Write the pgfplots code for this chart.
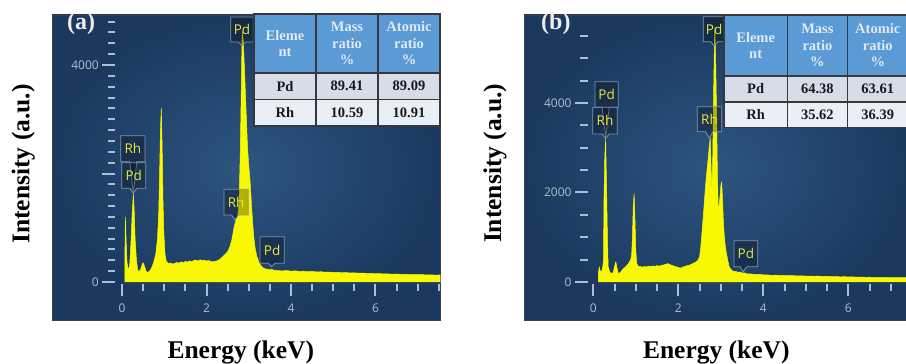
\documentclass[border=0pt]{standalone}
\usepackage{fontspec}
\setmainfont{Liberation Serif}
\newfontfamily\uisans{Open Sans}
\usepackage{pgfplots}
\pgfplotsset{compat=1.18}
\usetikzlibrary{calc}

\definecolor{panelbg}{RGB}{27,57,95}
\definecolor{panelhi}{RGB}{44,85,128}
\definecolor{spec}{RGB}{248,248,0}
\definecolor{tickc}{RGB}{172,190,210}
\definecolor{boxedge}{RGB}{128,150,175}
\definecolor{boxtext}{RGB}{232,232,60}
\definecolor{hdr}{RGB}{91,155,213}
\definecolor{hdrtext}{RGB}{224,233,245}
\definecolor{rowpd}{RGB}{214,221,233}
\definecolor{rowrh}{RGB}{234,238,246}
\definecolor{rulec}{RGB}{55,55,60}

\pgfplotsset{
  edspanel/.style={
    scale only axis, anchor=south west, height=305bp,
    xtick=\empty, ytick=\empty,
    axis line style={draw=black!75, line width=0.6bp},
    axis background/.style={shading=radial, inner color=panelhi, outer color=panelbg},
    clip=false,
  },
  spectrum/.style={draw=spec, fill=spec, line width=0.5bp, line join=round},
}
\tikzset{
  tickmark/.style={draw=tickc, line width=2bp},
  ticklab/.style={text=tickc, font=\uisans\fontsize{12bp}{12bp}\selectfont, inner sep=0pt},
  peaklab/.style={text=boxtext, font=\uisans\fontsize{13.5bp}{13.5bp}\selectfont, inner sep=0pt},
  axlab/.style={font=\bfseries\fontsize{25.5bp}{30bp}\selectfont, inner sep=0pt},
  hdrcell/.style={text=hdrtext, font=\bfseries\fontsize{14.5bp}{16.5bp}\selectfont, align=center, inner sep=0pt},
  bodycell/.style={text=black!90, font=\bfseries\fontsize{14.5bp}{16.5bp}\selectfont, inner sep=0pt},
}

% peak marker: left, right, bottom, top, tip x, tip y, element
\newcommand\peakbox[7]{%
  \path[draw=boxedge, line width=0.8bp, fill=black, fill opacity=0.28]
    (#1bp,#3bp) -- (#1bp,#4bp) -- (#2bp,#4bp) -- (#2bp,#3bp)
    -- ({#5bp+3.5bp},#3bp) -- (#5bp,#6bp) -- ({#5bp-3.5bp},#3bp) -- cycle;
  \node[peaklab] at ($(#1bp,#3bp)!0.5!(#2bp,#4bp)$) {#7};
}

% quantification table grid: x0, x1, x2, x3, top, header bottom, row split, bottom
\newcommand\edstable[8]{%
  \fill[hdr] (#1bp,#6bp) rectangle (#4bp,#5bp);
  \fill[rowpd] (#1bp,#7bp) rectangle (#4bp,#6bp);
  \fill[rowrh] (#1bp,#8bp) rectangle (#4bp,#7bp);
  \draw[rulec, line width=1.2bp] (#1bp,#8bp) rectangle (#4bp,#5bp)
     (#1bp,#6bp) -- (#4bp,#6bp) (#1bp,#7bp) -- (#4bp,#7bp)
     (#2bp,#8bp) -- (#2bp,#5bp) (#3bp,#8bp) -- (#3bp,#5bp);
}

\begin{document}
\begin{tikzpicture}
\useasboundingbox (0,0) rectangle (906bp,364bp);
\clip (0,0) rectangle (906bp,364bp);

%% ---------------- panel (a) ----------------
\begin{axis}[edspanel, at={(52bp,44bp)}, width=388bp,
  xmin=-1.657, xmax=7.527, ymin=-700, ymax=4922]
\addplot[spectrum] coordinates {
(0.07,0) (0.07,600) (0.08,1200) (0.10,700) (0.12,350) (0.15,220) (0.18,300)
(0.21,700) (0.24,1250) (0.27,1640) (0.29,1300) (0.31,800) (0.34,420)
(0.37,230) (0.40,190) (0.44,230) (0.48,330) (0.50,356) (0.53,300)
(0.57,200) (0.60,175) (0.65,200) (0.70,260) (0.75,360) (0.80,520)
(0.84,800) (0.87,1300) (0.89,2000) (0.91,2800) (0.93,3200) (0.95,2500)
(0.97,1500) (0.99,900) (1.02,500) (1.05,380) (1.10,340) (1.15,352)
(1.20,330) (1.25,345) (1.30,360) (1.35,348) (1.40,372) (1.45,356)
(1.50,380) (1.55,366) (1.60,390) (1.65,372) (1.70,398) (1.75,405)
(1.80,385) (1.85,410) (1.90,395) (1.95,402) (2.00,388) (2.05,396)
(2.10,380) (2.15,372) (2.20,378) (2.25,390) (2.30,410) (2.35,440)
(2.40,480) (2.45,515) (2.50,560) (2.55,640) (2.60,780) (2.65,1000)
(2.70,1150) (2.74,1220) (2.77,1450) (2.80,2400) (2.82,3400) (2.84,4450)
(2.85,4620) (2.87,4450) (2.89,4100) (2.91,3700) (2.94,3100) (2.97,2500)
(3.00,2150) (3.03,1880) (3.06,1480) (3.09,1120) (3.12,830) (3.15,630)
(3.19,480) (3.24,360) (3.30,290) (3.36,250) (3.42,240) (3.50,225)
(3.55,235) (3.60,215) (3.70,210) (3.80,205) (3.90,212) (4.00,198)
(4.10,206) (4.20,194) (4.30,200) (4.40,190) (4.50,196) (4.60,186)
(4.70,190) (4.80,180) (4.90,184) (5.00,176) (5.10,180) (5.20,170)
(5.30,174) (5.40,166) (5.50,170) (5.60,162) (5.70,166) (5.80,158)
(5.90,160) (6.00,152) (6.10,156) (6.20,148) (6.30,150) (6.40,144)
(6.50,148) (6.60,140) (6.70,143) (6.80,137) (6.90,140) (7.00,134)
(7.10,137) (7.20,131) (7.30,134) (7.40,128) (7.527,130) (7.527,0)
};
% energy ticks
\pgfplotsinvokeforeach{0,0.5,...,7.5}{\draw[tickmark] (axis cs:#1,0) ++(0bp,-1.5bp) -- ++(0bp,-7bp);}
\pgfplotsinvokeforeach{0,2,4,6}{%
  \draw[tickmark] (axis cs:#1,0) ++(0bp,-1.5bp) -- ++(0bp,-12.5bp);
  \node[ticklab] at ([yshift=-26bp]axis cs:#1,0) {#1};}
% intensity ticks
\pgfplotsinvokeforeach{0,200,...,4800}{\draw[tickmark] (axis cs:-0.166,#1) -- ++(-6.5bp,0bp);}
\pgfplotsinvokeforeach{0,2000,4000}{\draw[tickmark] (axis cs:-0.166,#1) -- ++(-13bp,0bp);}
\node[ticklab, anchor=east] at ([xshift=-16bp]axis cs:-0.166,4000) {4000};
\node[ticklab, anchor=east] at ([xshift=-16bp]axis cs:-0.166,0) {0};
\end{axis}

\peakbox{230.7}{253.3}{322}{347}{242}{318}{Pd}
\peakbox{120.7}{145}{202.3}{228.3}{133.3}{170.7}{Rh}
\peakbox{121.7}{145.7}{175.7}{201.3}{133.3}{170.7}{Pd}
\peakbox{224}{248.3}{149}{174.7}{235}{144}{Rh}
\peakbox{260}{284.3}{100.7}{127.3}{271.7}{97.3}{Pd}

\edstable{254}{316}{378}{440}{350}{291}{264.7}{238}
\node[hdrcell] at (285bp,320.5bp) {Eleme\\nt};
\node[hdrcell] at (347bp,320.5bp) {Mass\\ratio\\\%};
\node[hdrcell] at (409bp,320.5bp) {Atomic\\ratio\\\%};
\node[bodycell] at (285bp,277.85bp) {Pd};
\node[bodycell] at (347bp,277.85bp) {89.41};
\node[bodycell] at (409bp,277.85bp) {89.09};
\node[bodycell] at (285bp,251.35bp) {Rh};
\node[bodycell] at (347bp,251.35bp) {10.59};
\node[bodycell] at (409bp,251.35bp) {10.91};

\node[axlab, text=white!92!black, anchor=base west, font=\bfseries\fontsize{24bp}{28bp}\selectfont] at (67bp,334bp) {(a)};
\node[axlab, anchor=base] at (240.8bp,6bp) {Energy (keV)};
\node[axlab, rotate=90] at (23.3bp,200bp) {Intensity (a.u.)};

%% ---------------- panel (b) ----------------
\begin{axis}[edspanel, at={(524bp,44bp)}, width=384bp,
  xmin=-1.631, xmax=7.404, ymin=-849, ymax=5966]
\addplot[spectrum] coordinates {
(0.12,0) (0.12,200) (0.14,340) (0.16,250) (0.19,230) (0.22,320) (0.24,500)
(0.25,1830) (0.27,2800) (0.29,3212) (0.31,2200) (0.33,1090) (0.35,340)
(0.39,220) (0.43,180) (0.47,220) (0.50,350) (0.53,454) (0.56,300)
(0.59,180) (0.64,220) (0.70,290) (0.76,340) (0.82,400) (0.87,480)
(0.90,570) (0.92,1000) (0.94,1700) (0.96,1980) (0.98,1400) (1.00,700)
(1.02,420) (1.06,340) (1.10,352) (1.15,330) (1.20,346) (1.25,338)
(1.30,355) (1.35,342) (1.40,360) (1.45,348) (1.50,366) (1.55,352)
(1.60,370) (1.65,380) (1.70,395) (1.75,410) (1.80,392) (1.85,370)
(1.90,356) (1.95,340) (2.00,325) (2.05,310) (2.10,330) (2.15,348)
(2.20,362) (2.25,375) (2.30,392) (2.35,418) (2.40,440) (2.45,470)
(2.50,560) (2.53,800) (2.56,1150) (2.59,1500) (2.62,1900) (2.65,2250)
(2.68,2550) (2.71,2840) (2.73,3050) (2.75,3212) (2.77,2600) (2.79,2020)
(2.81,2800) (2.83,4200) (2.85,5400) (2.86,5700) (2.88,4900) (2.90,3730)
(2.92,2400) (2.94,1650) (2.96,1700) (2.98,1900) (3.00,2150) (3.02,2240)
(3.04,1850) (3.06,1350) (3.08,1050) (3.10,850) (3.12,700) (3.14,600)
(3.17,450) (3.20,330) (3.25,270) (3.30,235) (3.35,240) (3.40,215)
(3.45,225) (3.50,200) (3.55,205) (3.60,185) (3.70,180) (3.80,170)
(3.90,172) (4.00,160) (4.10,158) (4.20,150) (4.30,152) (4.40,145)
(4.50,146) (4.60,140) (4.70,142) (4.80,136) (4.90,138) (5.00,132)
(5.10,133) (5.20,128) (5.30,130) (5.40,124) (5.50,126) (5.60,120)
(5.70,122) (5.80,116) (5.90,118) (6.00,112) (6.10,114) (6.20,108)
(6.30,110) (6.40,105) (6.50,107) (6.60,102) (6.70,104) (6.80,100)
(6.90,102) (7.00,98) (7.10,100) (7.20,96) (7.404,98) (7.404,0)
};
\pgfplotsinvokeforeach{0,0.5,...,7.0}{\draw[tickmark] (axis cs:#1,0) ++(0bp,-1.5bp) -- ++(0bp,-7bp);}
\pgfplotsinvokeforeach{0,2,4,6}{%
  \draw[tickmark] (axis cs:#1,0) ++(0bp,-1.5bp) -- ++(0bp,-12.5bp);
  \node[ticklab] at ([yshift=-26bp]axis cs:#1,0) {#1};}
\pgfplotsinvokeforeach{0,500,...,5500}{\draw[tickmark] (axis cs:-0.132,#1) -- ++(-7.7bp,0bp);}
\pgfplotsinvokeforeach{0,2000,4000}{%
  \draw[tickmark] (axis cs:-0.132,#1) -- ++(-12.7bp,0bp);
  \node[ticklab, anchor=east] at ([xshift=-16bp]axis cs:-0.132,#1) {#1};}
\end{axis}

\peakbox{703.3}{725}{322.3}{347.3}{714.2}{318}{Pd}
\peakbox{595}{618.3}{256.7}{282.3}{605.7}{225.7}{Pd}
\peakbox{592.7}{617.3}{230}{256.7}{605.7}{225.7}{Rh}
\peakbox{697.3}{721.7}{232.3}{257.3}{709.3}{225.7}{Rh}
\peakbox{734}{757.7}{97.3}{123.3}{743.3}{92.3}{Pd}

\edstable{724}{787.3}{847.5}{908}{349}{288}{262}{236.5}
\node[hdrcell] at (755.65bp,318.5bp) {Eleme\\nt};
\node[hdrcell] at (817.4bp,318.5bp) {Mass\\ratio\\\%};
\node[hdrcell] at (877.75bp,318.5bp) {Atomic\\ratio\\\%};
\node[bodycell] at (755.65bp,275bp) {Pd};
\node[bodycell] at (817.4bp,275bp) {64.38};
\node[bodycell] at (877.75bp,275bp) {63.61};
\node[bodycell] at (755.65bp,249.25bp) {Rh};
\node[bodycell] at (817.4bp,249.25bp) {35.62};
\node[bodycell] at (877.75bp,249.25bp) {36.39};

\node[axlab, text=white!92!black, anchor=base west, font=\bfseries\fontsize{24bp}{28bp}\selectfont] at (541bp,334bp) {(b)};
\node[axlab, anchor=base] at (716.3bp,6bp) {Energy (keV)};
\node[axlab, rotate=90] at (495bp,200.7bp) {Intensity (a.u.)};
\end{tikzpicture}
\end{document}
